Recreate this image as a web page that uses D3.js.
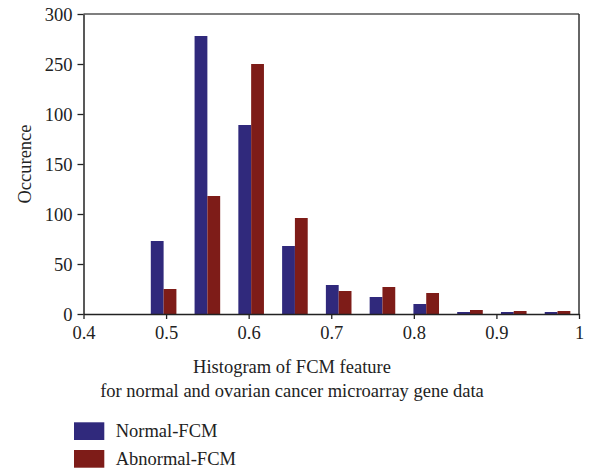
<!DOCTYPE html>
<html lang="en">
<head>
  <meta charset="UTF-8">
  <title>Histogram of FCM feature</title>
  <style>
    body { margin: 0; background: #fff; }
    svg { display: block; font-family: 'Liberation Serif', 'DejaVu Serif', serif; }
    .tick line { stroke: #222; stroke-width: 1.3; }
    .domain { stroke: #222; }
  </style>
</head>
<body>
<svg width="594" height="470"></svg>
<script src="https://d3js.org/d3.v7.min.js"></script>
<script>
  // bin centres
  const binCenters = [0.497, 0.550, 0.603, 0.656, 0.709, 0.762, 0.815, 0.868, 0.921, 0.974];
  const normalFCM   = [73, 278, 189, 68, 29, 17, 10, 2, 2, 2];
  const abnormalFCM = [25, 118, 250, 96, 23, 27, 21, 4, 3, 3];
  const seriesNames = ["Normal-FCM", "Abnormal-FCM"];
  const xTicks = [0.4, 0.5, 0.6, 0.7, 0.8, 0.9, 1];
  const yTicks = [0, 50, 100, 150, 200, 250, 300];
  const yTickLabels = ["0", "50", "100", "150", "100", "250", "300"]; // as printed in the original
  const colors = ["#30297c", "#7e1c18"];

  const font = "'Liberation Serif', 'DejaVu Serif', serif";
  const fs = 18.5;
  const svg = d3.select("svg");
  const mLeft = 83.5, mRight = 579, mTop = 14, mBottom = 314;

  const x = d3.scaleLinear().domain([0.4, 1]).range([mLeft, mRight]);
  const y = d3.scaleLinear().domain([0, 300]).range([mBottom, mTop]);
  const barW = 0.0155; // in data units

  const series = [normalFCM, abnormalFCM];
  series.forEach((vals, s) => {
    svg.append("g").selectAll("rect")
      .data(vals)
      .enter()
      .append("rect")
      .attr("x", (d, i) => x(binCenters[i] + (s - 1) * barW))
      .attr("width", x(0.4 + barW) - x(0.4))
      .attr("y", d => y(d))
      .attr("height", d => y(0) - y(d))
      .attr("fill", colors[s]);
  });

  // frame: top and right
  svg.append("line")
    .attr("x1", mLeft).attr("x2", mRight).attr("y1", mTop).attr("y2", mTop)
    .attr("stroke", "#555").attr("stroke-width", 1.5);
  svg.append("line")
    .attr("x1", mRight).attr("x2", mRight).attr("y1", mTop).attr("y2", mBottom)
    .attr("stroke", "#333").attr("stroke-width", 1.5);

  const xAxis = svg.append("g")
    .attr("transform", `translate(0,${mBottom})`)
    .call(d3.axisBottom(x).tickValues(xTicks).tickFormat(d3.format("")).tickSizeInner(5).tickSizeOuter(0).tickPadding(7))
    .attr("font-family", font)
    .attr("font-size", fs);
  xAxis.select(".domain").attr("stroke-width", 1.5);
  xAxis.selectAll(".tick text").attr("fill", "#222");

  const yAxis = svg.append("g")
    .attr("transform", `translate(${mLeft},0)`)
    .call(d3.axisLeft(y).tickValues(yTicks).tickFormat((d, i) => yTickLabels[i]).tickSizeInner(6).tickSizeOuter(0).tickPadding(5))
    .attr("font-family", font)
    .attr("font-size", fs);
  yAxis.select(".domain").attr("stroke-width", 1.5);
  yAxis.selectAll(".tick text").attr("dy", "0.33em").attr("fill", "#222");

  svg.append("text")
    .attr("transform", `translate(30.5,${(mTop + mBottom) / 2}) rotate(-90)`)
    .attr("text-anchor", "middle")
    .attr("font-size", fs)
    .attr("fill", "#222")
    .text("Occurence");

  svg.append("text")
    .attr("x", 292).attr("y", 372.5)
    .attr("text-anchor", "middle")
    .attr("font-size", fs)
    .attr("fill", "#222")
    .text("Histogram of FCM feature");
  svg.append("text")
    .attr("x", 292).attr("y", 397)
    .attr("text-anchor", "middle")
    .attr("font-size", fs)
    .attr("fill", "#222")
    .text("for normal and ovarian cancer microarray gene data");

  const legend = svg.append("g").selectAll("g")
    .data(seriesNames)
    .enter()
    .append("g")
    .attr("transform", (d, i) => `translate(74,${422.3 + i * 27.7})`);
  legend.append("rect")
    .attr("width", 30.3).attr("height", 17.7)
    .attr("fill", (d, i) => colors[i]);
  legend.append("text")
    .attr("x", 41.7).attr("y", 15)
    .attr("font-size", fs)
    .attr("fill", "#222")
    .text(d => d);
</script>
</body>
</html>
